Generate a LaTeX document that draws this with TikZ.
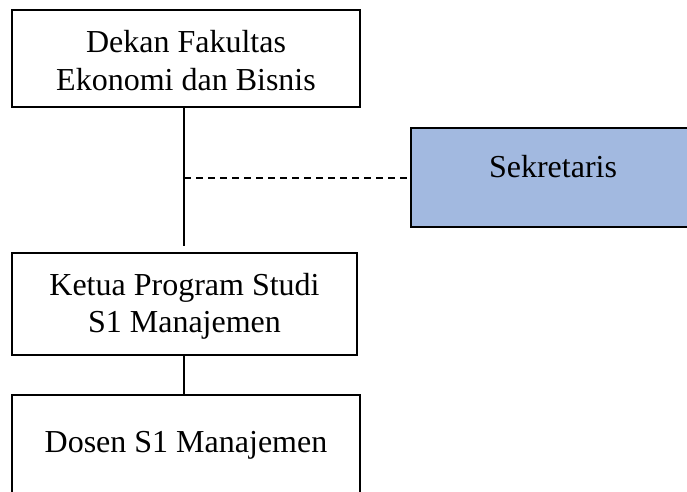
\documentclass[tikz,border=0pt]{standalone}
\usepackage{fontspec}
\setmainfont{Liberation Serif}
\definecolor{sekblue}{RGB}{162,185,224}
\begin{document}
\begin{tikzpicture}[x=1pt,y=-1pt,
  box/.style={draw=black,line width=2.4pt,rectangle,inner sep=0pt},
  txt/.style={font=\fontsize{32}{37.5}\selectfont,align=center,inner sep=0pt},
  conn/.style={line width=2.2pt},
  dashconn/.style={line width=2pt,dash pattern=on 7pt off 5pt}]
\useasboundingbox (0,0) rectangle (687,491);
\clip (0,0) rectangle (687,491);
% boxes
\node[box,minimum width=348pt,minimum height=97pt] (dekan) at (186,58.5) {};
\node[txt] (dekant) at (186,60.5) {Dekan Fakultas\\Ekonomi dan Bisnis};
\node[box,fill=sekblue,minimum width=290pt,minimum height=99pt] (sek) at (556,177.5) {};
\node[txt,anchor=base] (sekt) at (553,177) {Sekretaris};
\node[box,minimum width=345pt,minimum height=102pt] (ketua) at (184.5,304) {};
\node[txt] (ketuat) at (184.5,306.5) {Ketua Program Studi\\S1 Manajemen};
\node[box,minimum width=348pt,minimum height=130pt] (dosen) at (186,460) {};
\node[txt,anchor=base] (dosent) at (186,452) {Dosen S1 Manajemen};
% connectors
\coordinate (j) at (184,178);
\draw[conn] (dekan.south -| j) -- ([yshift=6pt]ketua.north -| j);
\draw[dashconn] (j) -- (sek.west |- j);
\draw[conn] (ketua.south -| j) -- (dosen.north -| j);
\end{tikzpicture}
\end{document}
